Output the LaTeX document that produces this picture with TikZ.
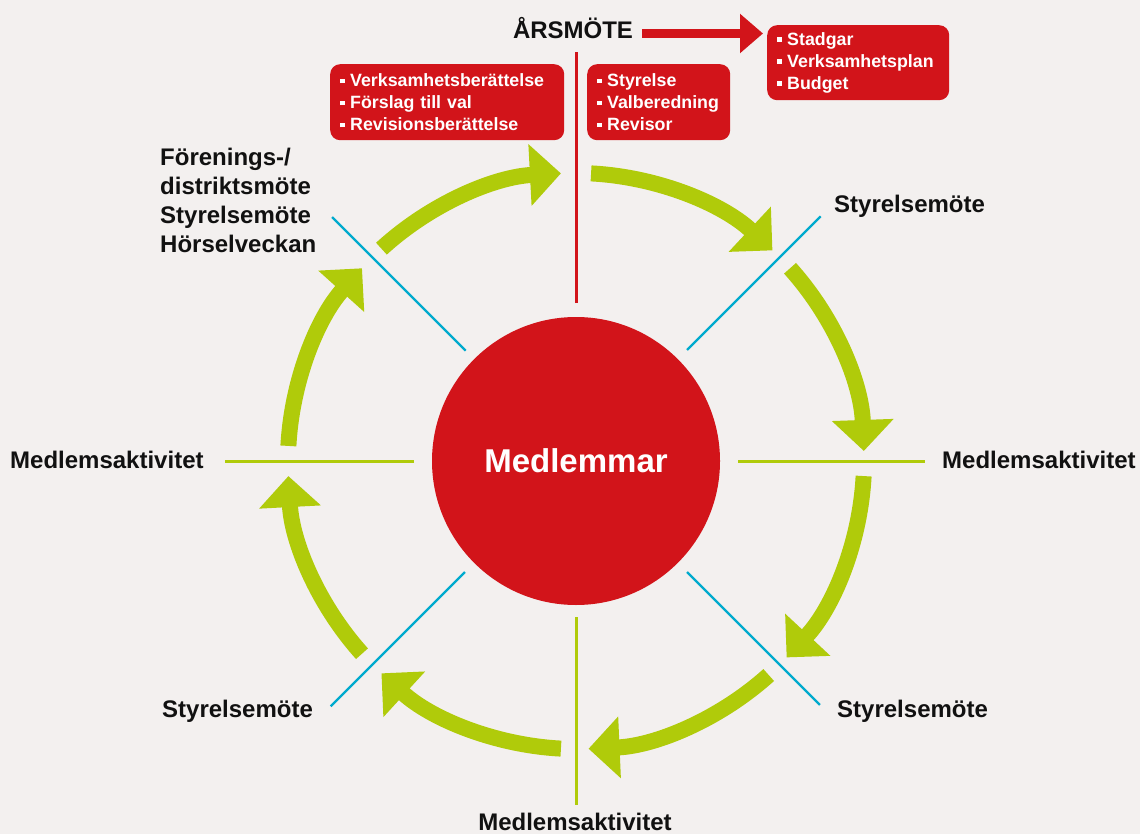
\documentclass[tikz,border=0pt]{standalone}
\usepackage{fontspec}
\setmainfont{Liberation Sans}
\usetikzlibrary{arrows.meta,calc}
\definecolor{bg}{RGB}{243,240,239}
\definecolor{cred}{RGB}{210,20,26}
\definecolor{cgreen}{RGB}{176,203,10}
\definecolor{cblue}{RGB}{0,170,205}
\definecolor{ctext}{RGB}{17,17,17}
\newcommand{\sqb}{\makebox[10pt][l]{\rule[3.5pt]{4.5pt}{4.5pt}}}
\begin{document}
\begin{tikzpicture}[x=1pt,y=-1pt,
 lbl/.style={inner sep=0pt,text=ctext,font=\fontsize{24}{29}\selectfont\bfseries},
 rbox/.style={fill=cred,rounded corners=10pt,text=white,align=left,inner xsep=10pt,inner ysep=0pt,font=\fontsize{17.8}{22}\selectfont\bfseries,anchor=north west},
 garrow/.style={draw=cgreen,line width=16pt,-{Triangle[length=31pt,width=60pt]}},
 gline/.style={draw=cgreen,line width=3pt},
 bline/.style={draw=cblue,line width=2.2pt},
 rline/.style={draw=cred,line width=3pt},
 rarrow/.style={draw=cred,line width=9pt,-{Triangle[length=23pt,width=38pt]}},
]
\useasboundingbox (0,0) rectangle (1140,834);
\fill[bg] (0,0) rectangle (1140,834);

% centre
\node[circle,fill=cred,minimum size=288pt,inner sep=0pt,text=white,
      font=\fontsize{33}{40}\selectfont\bfseries] (c) at (576,461) {Medlemmar};

% divider lines
\draw[rline] ($(c.center)+(-90:158)$) -- ($(c.center)+(-90:409)$);
\draw[gline] ($(c.center)+(90:156)$) -- ($(c.center)+(90:344)$);
\draw[gline] ($(c.center)+(0:162)$) -- ($(c.center)+(0:349)$);
\draw[gline] ($(c.center)+(180:162)$) -- ($(c.center)+(180:351)$);
\draw[bline] ($(c.center)+(-45:157)$) -- ($(c.center)+(-45:346)$);
\draw[bline] ($(c.center)+(-135:156)$) -- ($(c.center)+(-135:345)$);
\draw[bline] ($(c.center)+(45:157)$) -- ($(c.center)+(45:345)$);
\draw[bline] ($(c.center)+(135:157)$) -- ($(c.center)+(135:347)$);

% cycle arrows (clockwise on screen)
\draw[garrow] ($(c.center)+(-87:288)$) arc[start angle=-87,end angle=-47,radius=288];
\draw[garrow] ($(c.center)+(-42:288)$) arc[start angle=-42,end angle=-2,radius=288];
\draw[garrow] ($(c.center)+(3:288)$) arc[start angle=3,end angle=43,radius=288];
\draw[garrow] ($(c.center)+(48:288)$) arc[start angle=48,end angle=87.5,radius=288];
\draw[garrow] ($(c.center)+(93:288)$) arc[start angle=93,end angle=132.5,radius=288];
\draw[garrow] ($(c.center)+(138:288)$) arc[start angle=138,end angle=177,radius=288];
\draw[garrow] ($(c.center)+(-177:288)$) arc[start angle=-177,end angle=-138,radius=288];
\draw[garrow] ($(c.center)+(-132.5:288)$) arc[start angle=-132.5,end angle=-93,radius=288];

% top boxes
\node[rbox,text width=214pt,minimum height=76pt] (b1) at (330,64)
  {\sqb Verksamhetsberättelse\\\sqb Förslag till val\\\sqb Revisionsberättelse};
\node[rbox,text width=123pt,minimum height=76pt] (b2) at (587,64)
  {\sqb Styrelse\\\sqb Valberedning\\\sqb Revisor};
\node[rbox,text width=162pt,minimum height=75pt] (b3) at (767,25)
  {\sqb Stadgar\\\sqb Verksamhetsplan\\\sqb Budget};

% labels
\node[lbl,anchor=base] (ars) at (573,38.5) {ÅRSMÖTE};
\coordinate (aa) at ([yshift=5pt]ars.base east);
\draw[rarrow,shorten <=9pt,shorten >=4pt] (aa) -- (aa -| b3.west);

\node[lbl,anchor=north west,align=left] (l1) at (160,147.5)
  {Förenings-/\\distriktsmöte\\Styrelsemöte\\Hörselveckan};
\node[lbl,anchor=base west] (l2) at (834,213) {Styrelsemöte};
\node[lbl,anchor=base west] (l3) at (942,468) {Medlemsaktivitet};
\node[lbl,anchor=base west] (l4) at (837,717) {Styrelsemöte};
\node[lbl,anchor=base] (l5) at (575,830.5) {Medlemsaktivitet};
\node[lbl,anchor=base west] (l6) at (162,717) {Styrelsemöte};
\node[lbl,anchor=base west] (l7) at (10,468) {Medlemsaktivitet};
\end{tikzpicture}
\end{document}
